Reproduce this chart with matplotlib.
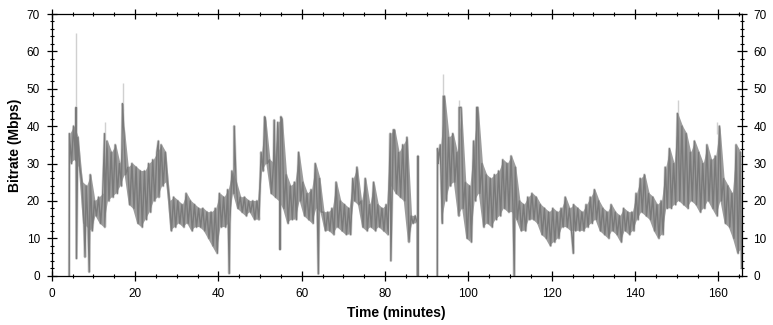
import numpy as np
import matplotlib
matplotlib.use("Agg")
import matplotlib.pyplot as plt
from matplotlib.ticker import MultipleLocator

# per-minute envelope of the bitrate trace (Mbps), minutes 4..165
# None = no data (stream interrupted)
minutes = np.arange(4, 166)
band_hi = [38, 40, 37, 25, 24, 27, 20, 21, 22, 36, 33, 35, 30, 40, 29, 30,
           29, 28, 28, 30, 31, 33, 35, 33, 20, 21, 20, 19, 22, 20, 19, 18,
           18, 17, 17, 18, 22, 21, 23, 28, 25, 21, 21, 20, 20, 20, 33, 42,
           31, 30, 41, 42, 27, 24, 25, 33, 25, 22, 23, 30, 26, 17, 17, 18,
           25, 20, 19, 18, 26, 29, 20, 26, 19, 25, 19, 18, 19, 38, 39, 33,
           35, 37, 16, 16, None, None, None, None, None, 35, 48, 37, 38, 33, 45, 25,
           24, 36, 45, 30, 27, 26, 27, 28, 31, 30, 32, 29, 20, 19, 21, 22,
           21, 19, 18, 17, 18, 17, 18, 21, 18, 19, 18, 17, 19, 21, 23, 20,
           18, 17, 19, 17, 16, 18, 17, 17, 22, 26, 27, 22, 21, 19, 20, 29,
           34, 30, 43, 40, 38, 33, 36, 33, 30, 35, 31, 32, 40, 26, 24, 22,
           35, 33]
band_lo = [30, 31, 29, 14, 13, 12, 16, 14, 13, 20, 21, 22, 24, 27, 19, 18,
           14, 13, 15, 17, 20, 21, 24, 25, 12, 13, 14, 13, 14, 12, 13, 13,
           12, 10, 8, 6, 13, 13, 14, 22, 18, 17, 16, 17, 15, 15, 28, 30,
           22, 21, 20, 18, 14, 15, 15, 20, 16, 15, 14, 18, 17, 12, 12, 11,
           13, 12, 11, 11, 20, 19, 13, 12, 13, 12, 13, 12, 11, 24, 22, 21,
           20, 9, 14, 14, None, None, None, None, 30, 14, 20, 24, 25, 16, 18, 10,
           9, 20, 22, 13, 14, 13, 15, 16, 18, 17, 17, 15, 12, 12, 15, 15,
           14, 11, 10, 8, 9, 10, 13, 13, 12, 12, 12, 12, 13, 14, 15, 12,
           11, 10, 12, 11, 9, 12, 11, 12, 15, 17, 16, 15, 12, 10, 11, 18,
           18, 19, 20, 19, 18, 20, 19, 17, 18, 20, 18, 16, 20, 14, 13, 10,
           6, 7]

# isolated peaks and drop-outs
spike_t = [4.2, 5.85, 5.95, 8.0, 9.0, 12.7, 17.0, 25.6, 42.6, 43.8, 51.1,
           53.4, 54.8, 55.0, 64.0, 81.4, 82.0, 87.8, 87.9, 87.95, 92.55, 92.6,
           94.0, 97.8, 102.0, 111.0, 125.2, 150.2, 165.6]
spike_v = [0, 45, 4.6, 5, 1, 38, 46, 36, 0.6, 40, 42.5, 41.6, 7, 42.5, 0.5,
           4, 39, 0, 32, 0, 0, 34, 48, 45, 45, 0, 6, 43.4, 2]

# light grey tips above the dark trace
light_t = [5.85, 12.7, 17.0, 94.0, 97.8, 150.2, 159.6]
light_base = [40, 36, 44, 46, 43, 41, 38]
light_top = [65, 41, 51.5, 54, 47, 47, 41]

hi = np.array(band_hi, dtype=float)
lo = np.array(band_lo, dtype=float)

pts = []
for m, h, l in zip(minutes, hi, lo):
    pts.append((m + 0.25, h))
    pts.append((m + 0.75, l))
for t, v in zip(spike_t, spike_v):
    pts.append((t, v))
pts.sort(key=lambda p: p[0])
xs = [p[0] for p in pts]
ys = [p[1] for p in pts]

plt.rcParams["font.family"] = ["Liberation Sans", "DejaVu Sans"]

fig = plt.figure(figsize=(7.73, 3.25), dpi=100)
ax = fig.add_axes([0.0669, 0.1517, 0.8926, 0.8052])

dark = "#7a7a7a"
mid = "#9c9c9c"
light = "#d0d0d0"
ax.vlines(light_t, light_base, light_top, color=light, lw=1.0, zorder=1)
ax.plot(xs, ys, color=light, lw=2.0, zorder=2)
ax.fill_between(minutes + 0.5, lo, hi, color=mid, lw=0, zorder=3)
ax.plot(xs, ys, color=dark, lw=1.0, zorder=4)

ax.set_xlim(0, 165.6)
ax.set_ylim(0, 70)
ax.xaxis.set_major_locator(MultipleLocator(20))
ax.xaxis.set_minor_locator(MultipleLocator(5))
ax.yaxis.set_major_locator(MultipleLocator(10))
ax.yaxis.set_minor_locator(MultipleLocator(2))

for s in ax.spines.values():
    s.set_linewidth(0.9)
    s.set_zorder(10)

ax.tick_params(which="major", direction="inout", length=7, width=0.9,
               top=True, right=True, labelsize=8.5)
ax.tick_params(which="minor", direction="inout", length=3.5, width=0.8,
               top=True, right=True)
ax.tick_params(axis="y", which="major", pad=5)
ax.tick_params(axis="x", which="major", pad=5)
ax.tick_params(axis="y", labelright=True)

ax.set_xlabel("Time (minutes)", fontsize=10, fontweight="bold", labelpad=5)
ax.set_ylabel("Bitrate (Mbps)", fontsize=10, fontweight="bold", labelpad=3)

fig.savefig("out.png", dpi=100)
